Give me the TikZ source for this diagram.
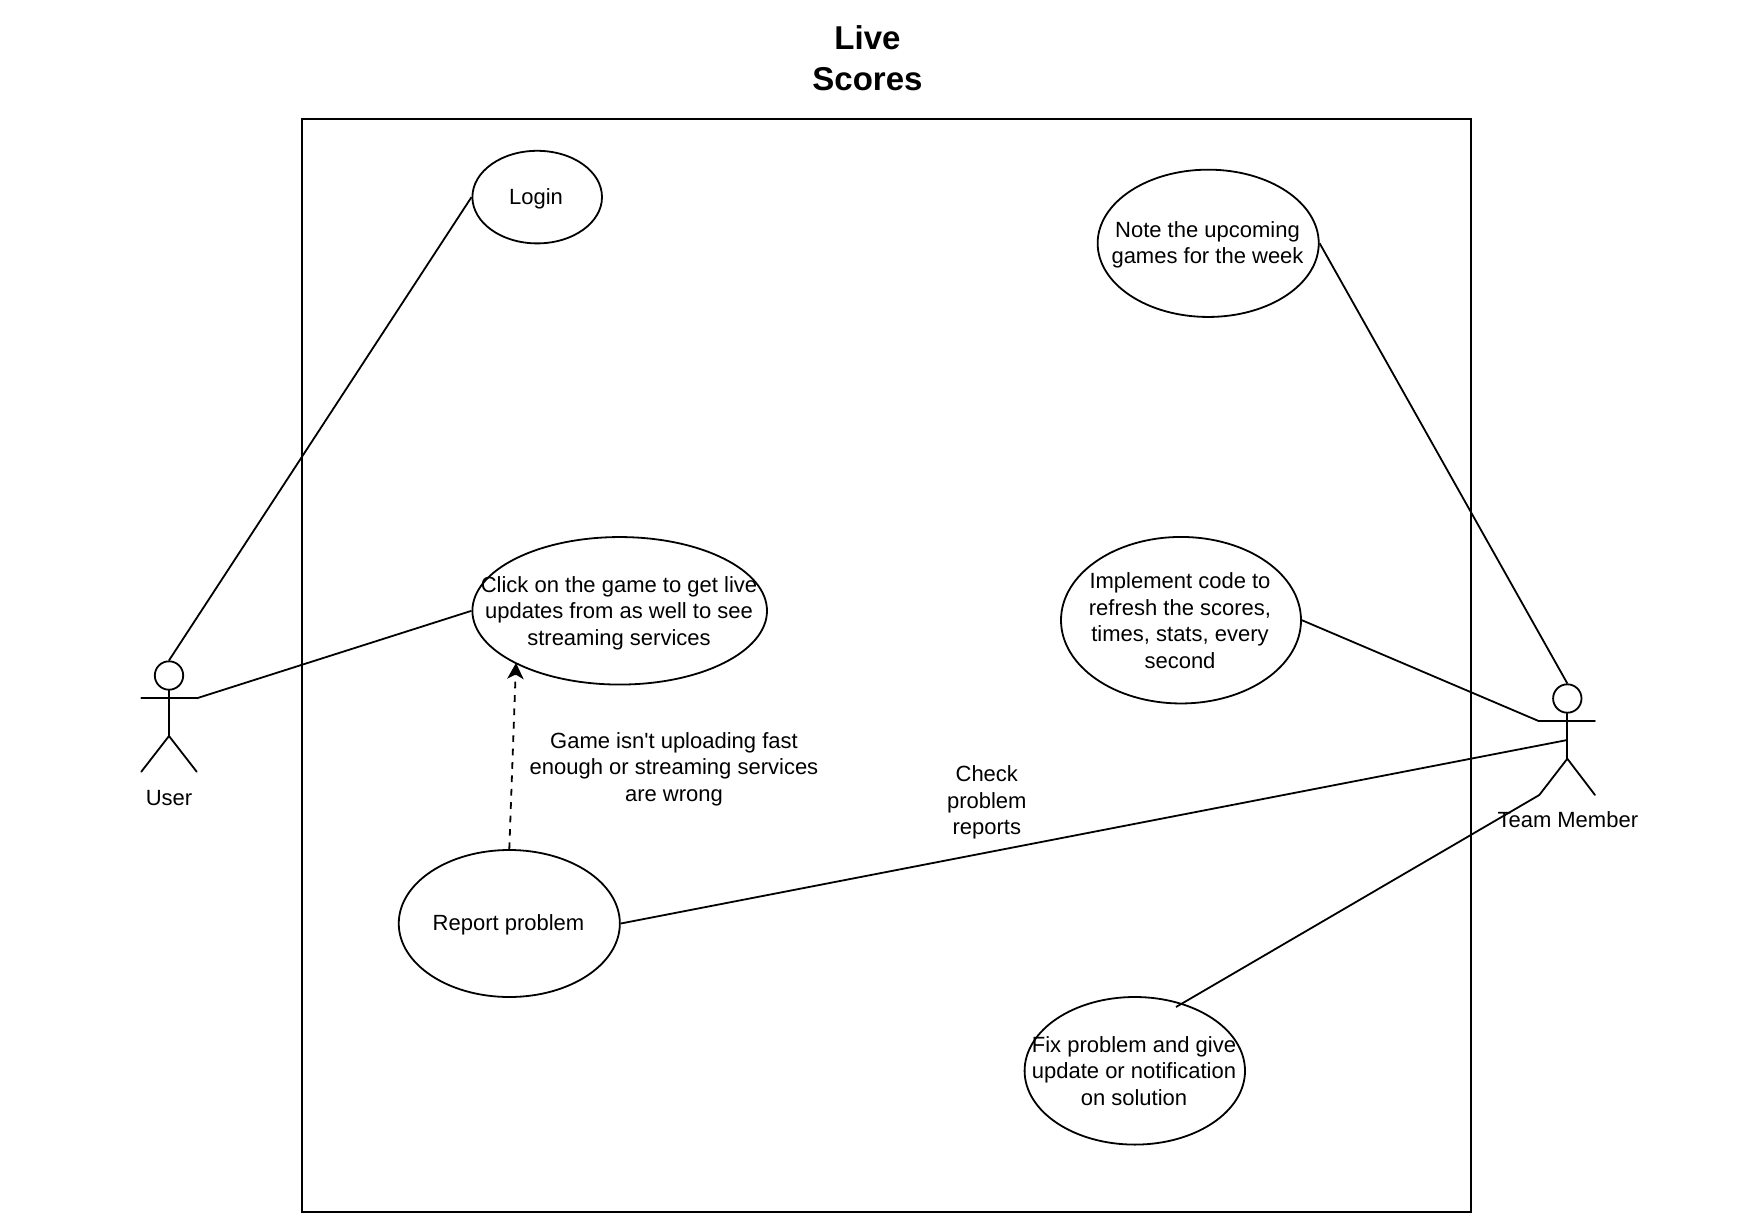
\documentclass[tikz,border=0pt]{standalone}
\usepackage{fontspec}
\setmainfont{Liberation Sans}
\newfontfamily\plainf{Liberation Sans}
\usetikzlibrary{shapes.geometric,arrows.meta}
\tikzset{
  usecase/.style={draw,ellipse,inner sep=0pt,line width=1.8pt},
  txt/.style={align=center,inner sep=0pt,font=\fontsize{22}{26.6}\selectfont},
  titletxt/.style={align=center,inner sep=0pt,font=\fontsize{33}{41}\selectfont\bfseries},
  headnode/.style={draw,circle,inner sep=0pt,minimum size=28.4pt,line width=1.8pt},
  limb/.style={line width=1.8pt,line cap=round},
  link/.style={line width=1.8pt},
  dep/.style={line width=1.8pt,dash pattern=on 6.7pt off 6.7pt,-{Stealth[length=16pt,width=16.5pt,inset=4.5pt]}}
}
\begin{document}
\begin{tikzpicture}[x=1pt,y=-1pt]
\useasboundingbox (0,0) rectangle (1751,1226);
\node[titletxt] (title) at (867.5,58) {Live\\Scores};
\node[draw,line width=1.8pt,inner sep=0pt,minimum width=1168.4pt,minimum height=1092.6pt] (frame) at (886.5,665.3) {};

\node[usecase,minimum width=129.6pt,minimum height=92.6pt] (login) at (537.2,197.1) {};
\node[txt] (logintxt) at (536,199) {Login};
\node[usecase,minimum width=221.1pt,minimum height=147.3pt] (note) at (1208.2,243.3) {};
\node[txt] (notetxt) at (1207.5,245) {Note the upcoming\\games for the week};
\node[usecase,minimum width=294.6pt,minimum height=147.5pt] (click) at (619.7,610.8) {};
\node[txt] (clicktxt) at (619,613) {Click on the game to get live\\updates from as well to see\\streaming services};
\node[usecase,minimum width=240pt,minimum height=166.5pt] (impl) at (1181,620.2) {};
\node[txt] (impltxt) at (1180,620.5) {Implement code to\\refresh the scores,\\times, stats, every\\second};
\node[usecase,minimum width=221.1pt,minimum height=147pt] (report) at (509.3,923.5) {};
\node[txt] (reporttxt) at (508.5,925) {Report problem};
\node[usecase,minimum width=220.4pt,minimum height=147.6pt] (fix) at (1134.8,1070.8) {};
\node[txt] (fixtxt) at (1134,1071) {Fix problem and give\\update or notification\\on solution};

\node[txt] (gametxt) at (674,769) {Game isn{\plainf'}t uploading fast\\enough or streaming services\\are wrong};
\node[txt] (checktxt) at (986.8,802.7) {Check\\problem\\reports};

% User actor
\node[headnode] (uhead) at (169,675.5) {};
\coordinate (uarmL) at (141.3,698.3);
\coordinate (uarmR) at (196.7,698.3);
\coordinate (uhip) at (169,736);
\coordinate (ulegL) at (141.3,771.7);
\coordinate (ulegR) at (196.7,771.7);
\draw[limb] (uhead.south) -- (uhip);
\draw[limb] (uarmL) -- (uarmR);
\draw[limb] (ulegL) -- (uhip) -- (ulegR);
\node[txt] (usertxt) at (169,798) {User};

% Team member actor
\node[headnode] (thead) at (1567.3,698.5) {};
\coordinate (tarmL) at (1539.3,721.3);
\coordinate (tarmR) at (1595,721.3);
\coordinate (tmid) at (1567.3,740);
\coordinate (thip) at (1567.3,758.7);
\coordinate (tlegL) at (1539.3,795);
\coordinate (tlegR) at (1595,795);
\draw[limb] (thead.south) -- (thip);
\draw[limb] (tarmL) -- (tarmR);
\draw[limb] (tlegL) -- (thip) -- (tlegR);
\node[txt] (teamtxt) at (1567.8,819.6) {Team Member};

% Connectors
\coordinate (clickhit) at (516,663);
\coordinate (fixhit) at (1176,1007);
\draw[link] (login.west) -- (uhead.north);
\draw[link] (uarmR) -- (click.west);
\draw[link] (note.east) -- (thead.north);
\draw[link] (impl.east) -- (tarmL);
\draw[link] (report.east) -- (tmid);
\draw[link] (fixhit) -- (tlegL);
\draw[dep] (report.north) -- (clickhit);
\end{tikzpicture}
\end{document}
